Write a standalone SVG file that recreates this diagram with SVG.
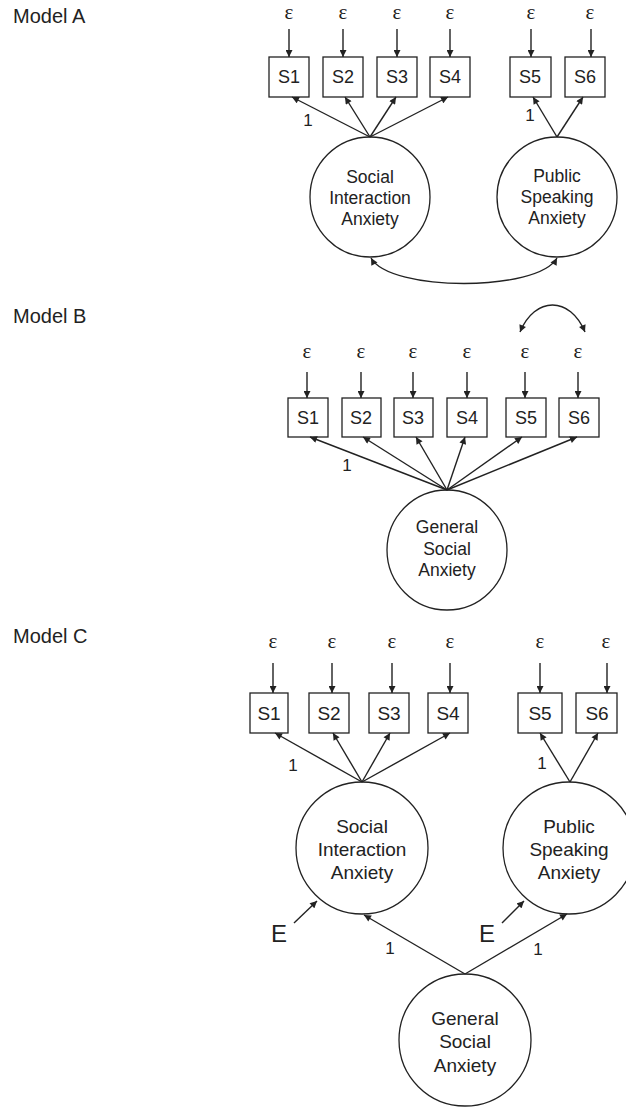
<svg xmlns="http://www.w3.org/2000/svg" width="626" height="1107" viewBox="0 0 626 1107">
<style>
.bg{fill:#fff}
.title{font-family:"Liberation Sans",Arial,sans-serif;font-size:20px;fill:#222}
.eps{font-family:"Liberation Serif","Times New Roman",serif;font-size:21px;fill:#222;text-anchor:middle}
.box{fill:#fff;stroke:#222;stroke-width:1.3}
.circ{fill:#fff;stroke:#222;stroke-width:1.3}
.lbl{font-family:"Liberation Sans",Arial,sans-serif;font-size:18px;fill:#222;text-anchor:middle}
.lblc{font-family:"Liberation Sans",Arial,sans-serif;font-size:19px;fill:#222;text-anchor:middle}
.lat{font-family:"Liberation Sans",Arial,sans-serif;font-size:17.5px;fill:#222;text-anchor:middle}
.latc{font-family:"Liberation Sans",Arial,sans-serif;font-size:19px;fill:#222;text-anchor:middle}
.one{font-family:"Liberation Sans",Arial,sans-serif;font-size:17px;fill:#222;text-anchor:middle}
.E{font-family:"Liberation Sans",Arial,sans-serif;font-size:24px;fill:#222;text-anchor:middle}
.edge{fill:none;stroke:#222;stroke-width:1.4;marker-end:url(#ah)}
.dbl{fill:none;stroke:#222;stroke-width:1.4;marker-end:url(#ah);marker-start:url(#ah)}
</style>
<defs>
<marker id="ah" viewBox="0 0 10 10" refX="10" refY="5" markerWidth="8" markerHeight="7" markerUnits="userSpaceOnUse" orient="auto-start-reverse">
<path d="M0,0 L10,5 L0,10 z" fill="#222"/>
</marker>
</defs>
<rect class="bg" x="0" y="0" width="626" height="1107"/>

<text class="title" x="13" y="23">Model A</text>
<text class="title" x="13" y="323">Model B</text>
<text class="title" x="13" y="643">Model C</text>

<!-- ===== Model A ===== -->
<g id="A-eps">
<text class="eps" x="289" y="19">ε</text>
<text class="eps" x="343" y="19">ε</text>
<text class="eps" x="397" y="19">ε</text>
<text class="eps" x="450" y="19">ε</text>
<text class="eps" x="531" y="19">ε</text>
<text class="eps" x="590" y="19">ε</text>
</g>
<g id="A-S1"><rect class="box" x="269" y="57" width="40" height="40"/><text class="lbl" x="289" y="83">S1</text></g>
<g id="A-S2"><rect class="box" x="323" y="57" width="40" height="40"/><text class="lbl" x="343" y="83">S2</text></g>
<g id="A-S3"><rect class="box" x="377" y="57" width="40" height="40"/><text class="lbl" x="397" y="83">S3</text></g>
<g id="A-S4"><rect class="box" x="430" y="57" width="40" height="40"/><text class="lbl" x="450" y="83">S4</text></g>
<g id="A-S5"><rect class="box" x="510" y="57" width="41" height="40"/><text class="lbl" x="530" y="83">S5</text></g>
<g id="A-S6"><rect class="box" x="565" y="57" width="40" height="40"/><text class="lbl" x="585" y="83">S6</text></g>
<g id="A-SIA"><circle class="circ" cx="370" cy="197" r="60"/>
<text class="lat" x="370" y="183">Social</text><text class="lat" x="370" y="204">Interaction</text><text class="lat" x="370" y="225">Anxiety</text></g>
<g id="A-PSA"><circle class="circ" cx="557" cy="197" r="60"/>
<text class="lat" x="557" y="182">Public</text><text class="lat" x="557" y="203">Speaking</text><text class="lat" x="557" y="224">Anxiety</text></g>

<!-- ===== Model B ===== -->
<g id="B-eps">
<text class="eps" x="307" y="358">ε</text>
<text class="eps" x="361" y="358">ε</text>
<text class="eps" x="413" y="358">ε</text>
<text class="eps" x="467" y="358">ε</text>
<text class="eps" x="525" y="358">ε</text>
<text class="eps" x="578" y="358">ε</text>
</g>
<g id="B-S1"><rect class="box" x="288" y="398" width="40" height="39"/><text class="lbl" x="308" y="424">S1</text></g>
<g id="B-S2"><rect class="box" x="342" y="398" width="39" height="39"/><text class="lbl" x="361" y="424">S2</text></g>
<g id="B-S3"><rect class="box" x="394" y="398" width="39" height="39"/><text class="lbl" x="413" y="424">S3</text></g>
<g id="B-S4"><rect class="box" x="447" y="398" width="40" height="39"/><text class="lbl" x="467" y="424">S4</text></g>
<g id="B-S5"><rect class="box" x="506" y="398" width="40" height="39"/><text class="lbl" x="526" y="424">S5</text></g>
<g id="B-S6"><rect class="box" x="559" y="398" width="40" height="39"/><text class="lbl" x="579" y="424">S6</text></g>
<g id="B-GSA"><circle class="circ" cx="447" cy="550" r="60"/>
<text class="lat" x="447" y="533">General</text><text class="lat" x="447" y="555">Social</text><text class="lat" x="447" y="576">Anxiety</text></g>

<!-- ===== Model C ===== -->
<g id="C-eps">
<text class="eps" x="273" y="648">ε</text>
<text class="eps" x="332" y="648">ε</text>
<text class="eps" x="392" y="648">ε</text>
<text class="eps" x="450" y="648">ε</text>
<text class="eps" x="540" y="648">ε</text>
<text class="eps" x="606" y="648">ε</text>
</g>
<g id="C-S1"><rect class="box" x="250" y="693" width="38" height="40"/><text class="lblc" x="269" y="720">S1</text></g>
<g id="C-S2"><rect class="box" x="309" y="693" width="40" height="40"/><text class="lblc" x="329" y="720">S2</text></g>
<g id="C-S3"><rect class="box" x="369" y="693" width="40" height="40"/><text class="lblc" x="389" y="720">S3</text></g>
<g id="C-S4"><rect class="box" x="428" y="693" width="40" height="40"/><text class="lblc" x="448" y="720">S4</text></g>
<g id="C-S5"><rect class="box" x="518" y="693" width="44" height="40"/><text class="lblc" x="540" y="720">S5</text></g>
<g id="C-S6"><rect class="box" x="576" y="693" width="41" height="40"/><text class="lblc" x="597" y="720">S6</text></g>
<g id="C-SIA"><circle class="circ" cx="362" cy="848" r="66"/>
<text class="latc" x="362" y="833">Social</text><text class="latc" x="362" y="856">Interaction</text><text class="latc" x="362" y="879">Anxiety</text></g>
<g id="C-PSA"><circle class="circ" cx="569" cy="848" r="66"/>
<text class="latc" x="569" y="833">Public</text><text class="latc" x="569" y="856">Speaking</text><text class="latc" x="569" y="879">Anxiety</text></g>
<g id="C-GSA"><circle class="circ" cx="465" cy="1040" r="66"/>
<text class="latc" x="465" y="1025">General</text><text class="latc" x="465" y="1048">Social</text><text class="latc" x="465" y="1072">Anxiety</text></g>
<g id="C-E1"><text class="E" x="279" y="942">E</text></g>
<g id="C-E2"><text class="E" x="487" y="942">E</text></g>

<!-- ===== Connectors ===== -->
<g id="connectors">
<!-- A: errors -->
<line class="edge" x1="289" y1="29" x2="289" y2="57"/>
<line class="edge" x1="343" y1="29" x2="343" y2="57"/>
<line class="edge" x1="397" y1="29" x2="397" y2="57"/>
<line class="edge" x1="450" y1="29" x2="450" y2="57"/>
<line class="edge" x1="531" y1="29" x2="531" y2="57"/>
<line class="edge" x1="591" y1="29" x2="591" y2="57"/>
<!-- A: loadings -->
<line class="edge" x1="370" y1="137" x2="292" y2="97"/>
<line class="edge" x1="370" y1="137" x2="345" y2="97"/>
<line class="edge" x1="370" y1="137" x2="396" y2="97"/>
<line class="edge" x1="370" y1="137" x2="448" y2="97"/>
<line class="edge" x1="557" y1="137" x2="533" y2="97"/>
<line class="edge" x1="557" y1="137" x2="583" y2="97"/>
<path class="dbl" d="M371,258 C390,292 538,292 557,258"/>
<!-- B -->
<line class="edge" x1="307" y1="372" x2="307" y2="398"/>
<line class="edge" x1="361" y1="372" x2="361" y2="398"/>
<line class="edge" x1="413" y1="372" x2="413" y2="398"/>
<line class="edge" x1="467" y1="372" x2="467" y2="398"/>
<line class="edge" x1="525" y1="372" x2="525" y2="398"/>
<line class="edge" x1="578" y1="372" x2="578" y2="398"/>
<line class="edge" x1="447" y1="490" x2="310" y2="437"/>
<line class="edge" x1="447" y1="490" x2="363" y2="437"/>
<line class="edge" x1="447" y1="490" x2="416" y2="437"/>
<line class="edge" x1="447" y1="490" x2="465" y2="437"/>
<line class="edge" x1="447" y1="490" x2="522" y2="437"/>
<line class="edge" x1="447" y1="490" x2="577" y2="437"/>
<path class="dbl" d="M520,332 C535,296 570,296 585,332"/>
<!-- C -->
<line class="edge" x1="273" y1="663" x2="273" y2="693"/>
<line class="edge" x1="332" y1="663" x2="332" y2="693"/>
<line class="edge" x1="392" y1="663" x2="392" y2="693"/>
<line class="edge" x1="450" y1="663" x2="450" y2="693"/>
<line class="edge" x1="540" y1="663" x2="540" y2="693"/>
<line class="edge" x1="607" y1="663" x2="607" y2="693"/>
<line class="edge" x1="362" y1="782" x2="275" y2="733"/>
<line class="edge" x1="362" y1="782" x2="333" y2="733"/>
<line class="edge" x1="362" y1="782" x2="390" y2="733"/>
<line class="edge" x1="362" y1="782" x2="450" y2="733"/>
<line class="edge" x1="570" y1="782" x2="540" y2="733"/>
<line class="edge" x1="570" y1="782" x2="598" y2="733"/>
<line class="edge" x1="294" y1="923" x2="317" y2="901"/>
<line class="edge" x1="502" y1="923" x2="524" y2="901"/>
<line class="edge" x1="465" y1="974" x2="364" y2="915"/>
<line class="edge" x1="465" y1="974" x2="567" y2="914"/>
</g>

<g id="loading-labels">
<text class="one" x="308" y="126">1</text>
<text class="one" x="530" y="121">1</text>
<text class="one" x="347" y="471">1</text>
<text class="one" x="293" y="771">1</text>
<text class="one" x="542" y="769">1</text>
<text class="one" x="390" y="954">1</text>
<text class="one" x="538" y="955">1</text>
</g>
</svg>
